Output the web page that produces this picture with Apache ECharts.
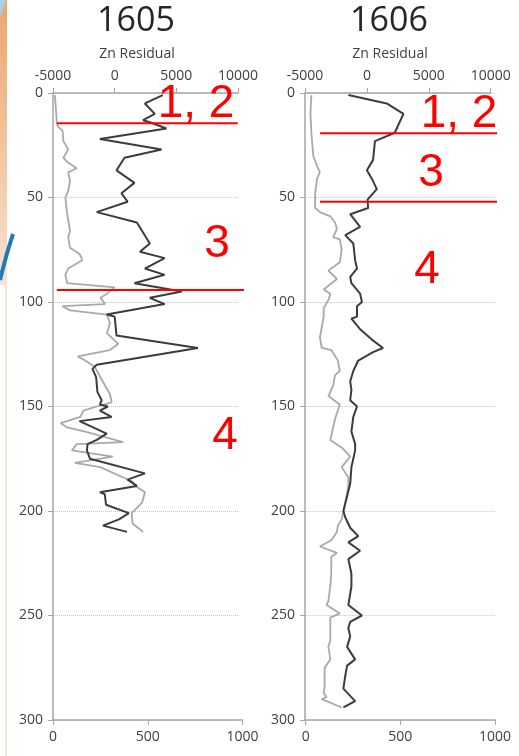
<!DOCTYPE html>
<html>
<head>
<meta charset="utf-8">
<script src="https://cdn.jsdelivr.net/npm/echarts@6/dist/echarts.min.js"></script>
<style>
  html, body { margin: 0; padding: 0; background: #ffffff; }
  #chart { width: 519px; height: 756px; }
</style>
</head>
<body>
<div id="chart"></div>
<script>
// Core 1605 and 1606 depth profiles: [depth, value]
// Zn residual (dark line, top axis)
const znResidual1605 = [[1,3900],[5,2450],[10,3250],[13,2300],[14,2850],[17,4200],[22,-1200],[27,3800],[31,800],[37,150],[43,1600],[48,550],[52,1050],[57,-1450],[62,1800],[72,2850],[76,2050],[79,4050],[84,2450],[87,4050],[91,1600],[95,5450],[98,2850],[101,4050],[106,-650],[107,0],[116,150],[122,6750],[130,-1450],[132,-1800],[136,-1500],[143,-1400],[147,-1050],[149,-1200],[150,-550],[152,-1200],[155,-250],[157,-2850],[163,-650],[166,-1450],[168,-2200],[171,-2250],[175,-2000],[182,2450],[185,1050],[188,1800],[191,-1200],[192,-800],[197,-700],[201,1150],[204,350],[207,-950],[210,1000]];
// Zn concentration (grey line, bottom axis)
const znConc1605 = [[1,10],[14,20],[16,25],[18,50],[23,55],[27,80],[31,55],[33,75],[36,125],[38,80],[42,90],[47,80],[50,65],[58,75],[66,90],[69,80],[74,90],[77,140],[80,155],[84,80],[87,65],[91,75],[93,325],[96,285],[98,250],[101,275],[102,50],[104,90],[106,285],[110,300],[115,285],[120,345],[123,300],[126,130],[128,170],[131,220],[136,250],[144,300],[148,310],[150,230],[152,160],[155,145],[158,40],[160,75],[162,170],[167,370],[168,125],[171,100],[174,315],[177,115],[179,250],[186,420],[188,435],[191,485],[196,470],[201,415],[206,420],[210,475]];

const znResidual1606 = [[1,-1500],[5,1600],[10,2950],[19,2250],[23,650],[32,500],[37,0],[41,400],[46,800],[51,50],[55,100],[58,-1350],[64,-550],[68,-1750],[72,-1100],[80,-950],[84,-800],[88,-1350],[91,-1250],[96,-550],[100,-400],[102,-800],[107,-800],[108,-1250],[113,-550],[118,400],[122,1300],[124,500],[128,-700],[133,-1100],[138,-1350],[142,-1250],[147,-1350],[150,-800],[155,-1100],[162,-1250],[168,-950],[171,-950],[179,-1250],[187,-1350],[193,-1600],[200,-1900],[203,-1750],[208,-1350],[212,-700],[215,-1500],[219,-550],[223,-1500],[230,-1250],[236,-1250],[245,-1500],[250,-400],[253,-1350],[256,-1500],[260,-1350],[265,-1600],[271,-950],[274,-1600],[279,-1750],[285,-1900],[291,-950],[294,-1900]];
const znConc1606 = [[1,30],[10,25],[19,30],[30,40],[35,60],[38,75],[41,60],[48,50],[55,50],[57,75],[59,130],[62,155],[65,165],[69,145],[70,180],[75,190],[81,180],[85,120],[89,165],[94,95],[96,130],[99,120],[103,95],[107,95],[117,75],[122,85],[123,135],[128,170],[133,180],[135,155],[140,145],[145,120],[149,180],[156,155],[166,130],[170,195],[174,235],[179,190],[184,225],[188,225],[193,215],[200,200],[204,190],[207,170],[210,165],[214,135],[217,75],[220,165],[222,135],[230,135],[236,130],[243,120],[245,110],[249,180],[251,130],[262,130],[265,120],[271,130],[275,100],[284,100],[287,95],[289,110],[290,85],[294,190]];

// Zone boundary depths and zone labels
const zoneDepths1605 = [14.5, 94.3];
const zoneDepths1606 = [19.3, 52];
const zoneLabels1605 = ['1, 2', '3', '4'];
const zoneLabels1606 = ['1, 2', '3', '4'];

const depthTicks = { min: 0, max: 300, interval: 50 };
const residualTicks = { min: -5000, max: 10000, interval: 5000 };
const concTicks = { min: 0, max: 1000, interval: 500 };

const FONT = '"Open Sans", "Liberation Sans", sans-serif';
const AXIS_GREY = '#a6a6a6';
const LABEL_COL = '#404040';
const plain = v => String(v);

const chart = echarts.init(document.getElementById('chart'), null, { renderer: 'canvas' });

const grids = [], xAxes = [], yAxes = [], series = [], graphics = [];

function addPanel(p) {
  const gi = grids.length;
  // grid for the residual (top) scale
  grids.push({ left: p.resLeft, top: 93, width: p.resWidth, height: 627 });
  // grid for the concentration (bottom) scale
  grids.push({ left: p.concLeft, top: 93, width: p.concWidth, height: 627 });

  const gridLine = { show: true, lineStyle: { type: 'dotted', color: '#c4c4c4', width: 1 } };
  const labelStyle = { fontSize: 14, color: LABEL_COL, fontFamily: FONT, margin: 10, formatter: plain };

  yAxes.push({
    gridIndex: gi, type: 'value', inverse: true,
    min: depthTicks.min, max: depthTicks.max, interval: depthTicks.interval,
    axisLine: { show: true, onZero: false, lineStyle: { color: AXIS_GREY, width: 1.5 } },
    axisTick: { show: true, length: 5, lineStyle: { color: AXIS_GREY } },
    axisLabel: labelStyle,
    splitLine: p.gridOnRes ? gridLine : { show: false }
  });
  yAxes.push({
    gridIndex: gi + 1, type: 'value', inverse: true,
    min: depthTicks.min, max: depthTicks.max, interval: depthTicks.interval,
    axisLine: { show: false }, axisTick: { show: false }, axisLabel: { show: false },
    splitLine: p.gridOnRes ? { show: false } : gridLine
  });
  xAxes.push({
    gridIndex: gi, type: 'value', position: 'top',
    min: residualTicks.min, max: residualTicks.max, interval: residualTicks.interval,
    axisLine: { show: true, onZero: false, lineStyle: { color: AXIS_GREY, width: 1.5 } },
    axisTick: { show: true, length: 5, lineStyle: { color: AXIS_GREY } },
    axisLabel: labelStyle,
    splitLine: { show: false }
  });
  xAxes.push({
    gridIndex: gi + 1, type: 'value', position: 'bottom',
    min: concTicks.min, max: concTicks.max, interval: concTicks.interval,
    axisLine: { show: true, onZero: false, lineStyle: { color: AXIS_GREY, width: 1.5 } },
    axisTick: { show: true, length: 5, lineStyle: { color: AXIS_GREY } },
    axisLabel: labelStyle,
    splitLine: { show: false }
  });

  series.push({
    type: 'line', xAxisIndex: gi + 1, yAxisIndex: gi + 1,
    data: p.conc.map(([d, v]) => [v, d]),
    symbol: 'none', z: 2,
    lineStyle: { color: '#a9a9a9', width: 1.8 }
  });
  series.push({
    type: 'line', xAxisIndex: gi, yAxisIndex: gi,
    data: p.res.map(([d, v]) => [v, d]),
    symbol: 'none', z: 3,
    lineStyle: { color: '#3c3c3c', width: 2 }
  });
  p.zones.forEach((d, k) => {
    series.push({
      type: 'line', xAxisIndex: gi + 1, yAxisIndex: gi + 1,
      data: [[p.zoneSpan[k][0], d], [p.zoneSpan[k][1], d]],
      symbol: 'none', clip: false, z: 4, silent: true,
      lineStyle: { color: '#ff0000', width: 2 }
    });
  });

  graphics.push({
    type: 'text', x: p.titleX, y: 21,
    style: { text: p.title, fontSize: 34, fontFamily: FONT, fill: '#262626', align: 'center', verticalAlign: 'middle' }
  });
  graphics.push({
    type: 'text', x: p.titleX + 1, y: 54,
    style: { text: 'Zn Residual', fontSize: 14, fontFamily: FONT, fill: LABEL_COL, align: 'center', verticalAlign: 'middle' }
  });
  p.labels.forEach((t, k) => {
    graphics.push({
      type: 'text', x: p.labelPos[k][0], y: p.labelPos[k][1], z: 10,
      style: { text: t, fontSize: 46, fontFamily: '"Liberation Sans", Arial, sans-serif', fill: '#ff0000', align: 'center', verticalAlign: 'middle' }
    });
  });
}

addPanel({
  title: '1605', titleX: 136,
  resLeft: 53, resWidth: 185, concLeft: 53, concWidth: 189.5, gridOnRes: true,
  res: znResidual1605, conc: znConc1605,
  zones: zoneDepths1605, zoneSpan: [[20, 975], [20, 1024]],
  labels: zoneLabels1605, labelPos: [[196, 104], [217, 244], [225, 436]]
});
addPanel({
  title: '1606', titleX: 389,
  resLeft: 305, resWidth: 185.7, concLeft: 305.7, concWidth: 189.3, gridOnRes: false,
  res: znResidual1606, conc: znConc1606,
  zones: zoneDepths1606, zoneSpan: [[76, 1030], [76, 1030]],
  labels: zoneLabels1606, labelPos: [[459, 114], [431, 173], [427, 270]]
});

// slide border decoration at the left edge
const decor = [
  { type: 'rect', shape: { x: 0, y: 0, width: 7, height: 285 }, z: -10,
    style: { fill: new echarts.graphic.LinearGradient(0, 0, 0, 1, [
      { offset: 0, color: '#eba66a' }, { offset: 1, color: '#f9e2d1' }]) } },
  { type: 'polygon', shape: { points: [[0, 0], [6, 0], [0, 18]] }, z: -9, style: { fill: '#a9d0ea' } },
  { type: 'bezierCurve', shape: { x1: 13, y1: 234, cpx1: 6, cpy1: 255, x2: 0, y2: 280 }, z: -9,
    style: { stroke: '#1f7bb6', lineWidth: 4, fill: null } },
  { type: 'rect', shape: { x: 5, y: 282, width: 2, height: 474 }, z: -10, style: { fill: '#fbe4d5' } }
];

chart.setOption({
  animation: false,
  backgroundColor: '#ffffff',
  grid: grids, xAxis: xAxes, yAxis: yAxes, series: series,
  graphic: decor.concat(graphics)
});
</script>
</body>
</html>
